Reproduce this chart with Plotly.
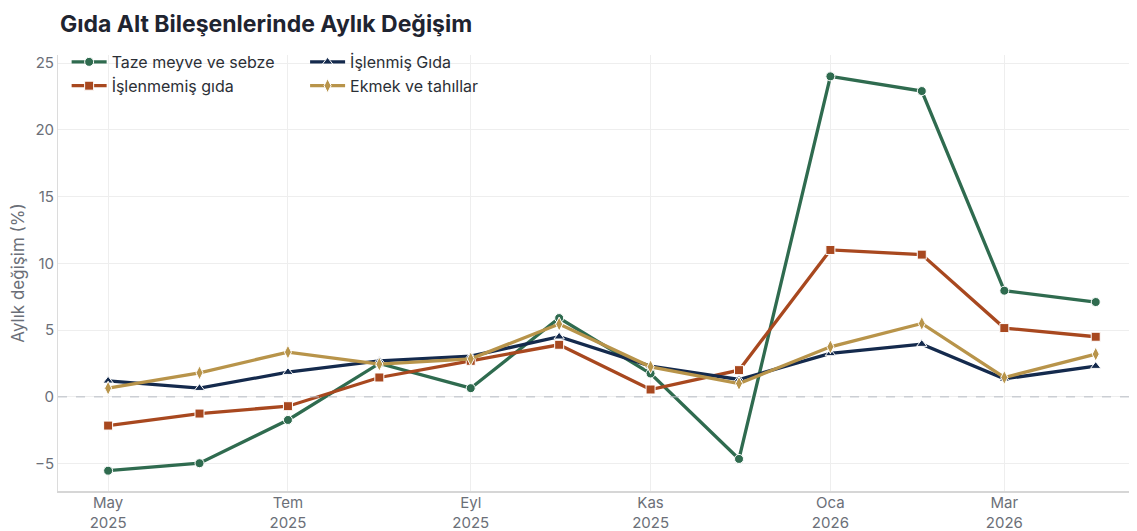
import plotly.graph_objects as go

# Aylık değişim (%) verileri, Mayıs 2025 - Nisan 2026
months = ["2025-05-01", "2025-06-01", "2025-07-01", "2025-08-01", "2025-09-01", "2025-10-01",
          "2025-11-01", "2025-12-01", "2026-01-01", "2026-02-01", "2026-03-01", "2026-04-01"]

taze_meyve_sebze = [-5.53, -4.97, -1.73, 2.5, 0.65, 5.9, 1.75, -4.65, 24.0, 22.9, 7.95, 7.1]
islenmemis_gida = [-2.15, -1.25, -0.7, 1.45, 2.7, 3.9, 0.55, 2.0, 11.0, 10.65, 5.15, 4.5]
islenmis_gida = [1.2, 0.65, 1.85, 2.7, 3.05, 4.5, 2.3, 1.3, 3.25, 3.95, 1.35, 2.3]
ekmek_tahillar = [0.65, 1.8, 3.35, 2.45, 2.85, 5.45, 2.25, 1.0, 3.75, 5.5, 1.45, 3.2]

tick_dates = ["2025-05-01", "2025-07-01", "2025-09-01", "2025-11-01", "2026-01-01", "2026-03-01"]
tick_labels = ["May<br>2025", "Tem<br>2025", "Eyl<br>2025", "Kas<br>2025", "Oca<br>2026", "Mar<br>2026"]

FONT = "Inter, Noto Sans, sans-serif"
GRAY = "#6b6f78"

series = [
    ("Taze meyve ve sebze", taze_meyve_sebze, "#2f6b4f", "circle", 9, "legend"),
    ("İşlenmemiş gıda", islenmemis_gida, "#a8481f", "square", 9, "legend"),
    ("İşlenmiş Gıda", islenmis_gida, "#142a4d", "triangle-up", 9, "legend2"),
    ("Ekmek ve tahıllar", ekmek_tahillar, "#b8944a", "diamond-tall", 10, "legend2"),
]

fig = go.Figure()
for name, vals, color, symbol, size, leg in series:
    fig.add_trace(go.Scatter(
        x=months, y=vals, name=name, mode="lines+markers",
        line=dict(color=color, width=3.3),
        marker=dict(symbol=symbol, size=size, color=color, line=dict(color="white", width=1)),
        legend=leg,
    ))

fig.add_hline(y=0, line=dict(color="#b8bcc4", width=1, dash="dash"))

legend_style = dict(
    orientation="v", yanchor="top", xanchor="left", y=1.023,
    font=dict(family=FONT, size=16, color="#2b2f36"),
    bgcolor="rgba(255,255,255,0)", tracegroupgap=0, itemwidth=35,
)

# the page body has an 8px margin, so the figure is a bit smaller than the window
fig.update_layout(
    title=dict(text="<b>Gıda Alt Bileşenlerinde Aylık Değişim</b>",
               x=0.046, xanchor="left", xref="container",
               y=0.97, yanchor="middle", yref="container",
               font=dict(family=FONT, size=23, color="#1f2430")),
    width=1129, height=523,
    margin=dict(l=50, r=0, t=47, b=40),
    plot_bgcolor="white", paper_bgcolor="white",
    font=dict(family=FONT, color=GRAY),
    legend=dict(x=0.008, **legend_style),
    legend2=dict(x=0.229, **legend_style),
    xaxis=dict(
        type="date", range=["2025-04-14", "2026-04-15"],
        tickvals=tick_dates, ticktext=tick_labels,
        tickfont=dict(family=FONT, size=15, color=GRAY),
        ticklabelstandoff=-3,
        showgrid=True, gridcolor="#eeeeee", gridwidth=1,
        showline=True, linecolor="#d6d6d6", linewidth=2,
        ticks="", zeroline=False, automargin=False,
    ),
    yaxis=dict(
        range=[-7.05, 25.6], dtick=5,
        title=dict(text="Aylık değişim (%)", font=dict(family=FONT, size=17, color=GRAY), standoff=8),
        tickfont=dict(family=FONT, size=15, color=GRAY),
        showgrid=True, gridcolor="#eeeeee", gridwidth=1,
        showline=True, linecolor="#dcdcdc", linewidth=1,
        ticks="", zeroline=False, automargin=False,
    ),
)

fig.write_html("out.html")
